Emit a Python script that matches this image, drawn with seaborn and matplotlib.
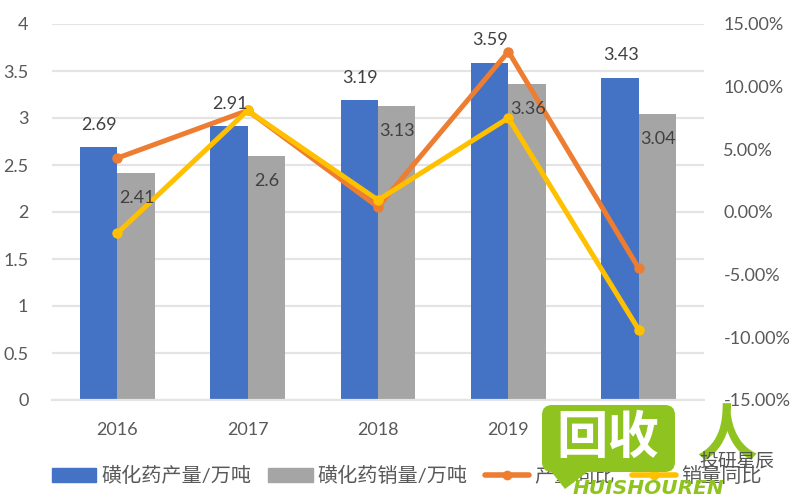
import matplotlib
matplotlib.use("Agg")
import matplotlib.pyplot as plt
import pandas as pd
import seaborn as sns
from matplotlib.lines import Line2D
from matplotlib.patches import FancyBboxPatch, Patch, Polygon

years = ["2016", "2017", "2018", "2019", "2020"]
output = [2.69, 2.91, 3.19, 3.59, 3.43]
sales = [2.41, 2.60, 3.13, 3.36, 3.04]
output_yoy = [4.3, 8.1, 0.4, 12.8, -4.5]
sales_yoy = [-1.7, 8.1, 0.95, 7.5, -9.4]
left_ticks = [0, 0.5, 1, 1.5, 2, 2.5, 3, 3.5, 4]
left_labels = ["0", "0.5", "1", "1.5", "2", "2.5", "3", "3.5", "4"]
right_ticks = [-15, -10, -5, 0, 5, 10, 15]

sns.set_theme(style="white")
plt.rcParams["font.family"] = ["Lato", "Noto Sans CJK SC", "DejaVu Sans"]

BLUE = "#4472c4"
GRAY = "#a5a5a5"
ORANGE = "#ed7d31"
YELLOW = "#ffc000"
TEXT = "#595959"
GREEN = "#8fc31f"

fig = plt.figure(figsize=(8, 5), dpi=100)
ax = fig.add_axes([52 / 800, 1 - 400 / 500, 652 / 800, 376 / 500])

bars = pd.DataFrame({
    "year": years * 2,
    "value": output + sales,
    "series": ["output"] * 5 + ["sales"] * 5,
})
sns.barplot(data=bars, x="year", y="value", hue="series", hue_order=["output", "sales"],
            palette=[BLUE, GRAY], width=0.575, saturation=1, legend=False,
            edgecolor="none", linewidth=0, ax=ax)
ax.set_xlim(-0.5, 4.5)
ax.set_ylim(0, 4)
ax.set_yticks(left_ticks)
ax.set_yticklabels(left_labels)
ax.set_xlabel("")
ax.set_ylabel("")
ax.grid(axis="y", color="#e4e4e4", lw=1.6)
ax.set_axisbelow(True)
ax.tick_params(axis="both", length=0, labelsize=13, labelcolor=TEXT)
ax.tick_params(axis="x", pad=16)
ax.tick_params(axis="y", pad=17)
for s in ax.spines.values():
    s.set_visible(False)
ax.spines["bottom"].set_visible(True)
ax.spines["bottom"].set_color("#e4e4e4")
ax.spines["bottom"].set_linewidth(1.6)

ax2 = ax.twinx()
for vals, color in [(output_yoy, ORANGE), (sales_yoy, YELLOW)]:
    sns.lineplot(x=years, y=vals, color=color, lw=3.6, marker="o", markersize=7.5,
                 markeredgewidth=0, sort=False, ax=ax2)
ax2.set_ylim(-15, 15)
ax2.set_yticks(right_ticks)
ax2.set_yticklabels([f"{t:.2f}%" for t in right_ticks])
ax2.tick_params(axis="y", length=0, labelsize=13, labelcolor=TEXT, pad=14)
ax2.grid(False)
for s in ax2.spines.values():
    s.set_visible(False)

# data labels, output above the bar and sales inside it
for i, v in enumerate(output):
    ax2.annotate(f"{v:g}", (i, -15 + v * 7.5), xytext=(-13, 16), textcoords="offset points",
                 ha="center", va="center", fontsize=13, color="#404040")
for i, v in enumerate(sales):
    ax2.annotate(f"{v:g}", (i, -15 + v * 7.5), xytext=(14, -18), textcoords="offset points",
                 ha="center", va="center", fontsize=13, color="#404040")

handles = [
    Patch(color=BLUE), Patch(color=GRAY),
    Line2D([], [], color=ORANGE, lw=4, marker="o", markersize=6),
    Line2D([], [], color=YELLOW, lw=4, marker="o", markersize=6),
]
fig.legend(handles, ["磺化药产量/万吨", "磺化药销量/万吨", "产量同比", "销量同比"],
           loc="lower left", bbox_to_anchor=(52 / 800, 15 / 500), ncol=4, frameon=False,
           fontsize=14.5, labelcolor=TEXT, handlelength=2.2, handleheight=0.7,
           handletextpad=0.25, columnspacing=0.85, borderpad=0, borderaxespad=0)

# watermark in pixel coordinates
wm = fig.add_axes([0, 0, 1, 1], facecolor="none", zorder=10)
wm.set_xlim(0, 800)
wm.set_ylim(500, 0)
wm.axis("off")
wm.add_patch(FancyBboxPatch((542, 405), 133, 67, boxstyle="round,pad=0,rounding_size=10",
                            fc=GREEN, ec="none"))
wm.add_patch(Polygon([[546, 465], [590, 470], [565, 489]], fc=GREEN, ec="none"))
wm.text(608, 437, "回收", ha="center", va="center", fontsize=37, color="white", fontweight="bold",
        family=["Noto Sans CJK SC"])
wm.text(727, 438, "人", ha="center", va="center", fontsize=44, color=GREEN, fontweight="bold",
        family=["Noto Sans CJK SC"])
wm.text(648, 489, "HUISHOUREN", ha="center", va="center", fontsize=14.5, color=GREEN,
        fontweight="bold", style="italic", family=["Liberation Sans Narrow", "DejaVu Sans"])
wm.text(737, 462, "投研星辰", ha="center", va="center", fontsize=13.5, color="#555555",
        family=["Noto Sans CJK SC"])

fig.savefig("out.png", dpi=100)
